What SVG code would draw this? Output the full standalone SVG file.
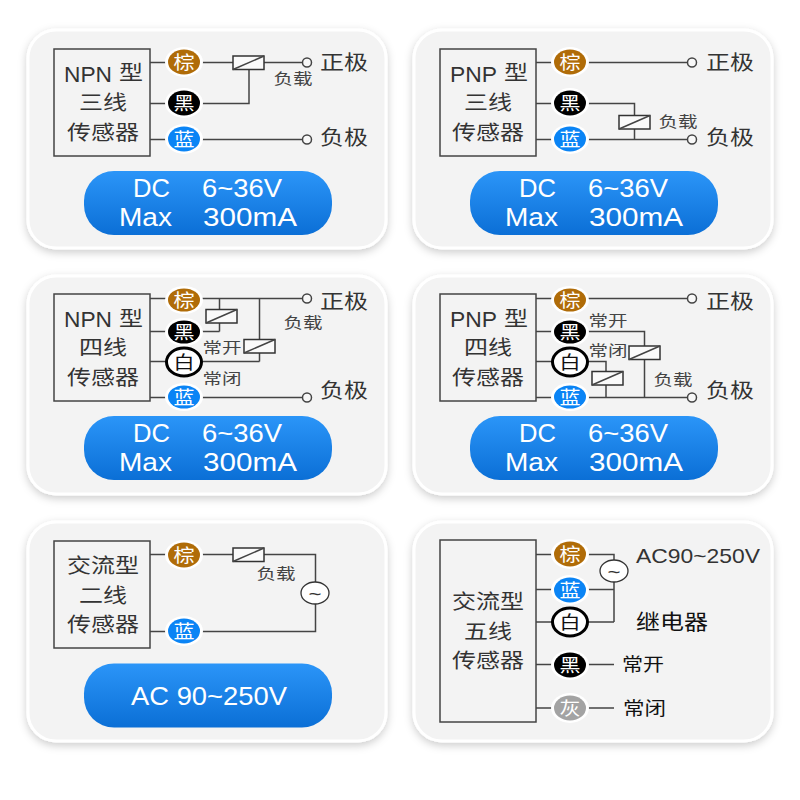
<svg xmlns="http://www.w3.org/2000/svg" width="800" height="800" viewBox="0 0 800 800">
<style>
text{font-family:"Noto Sans CJK SC","Noto Sans",sans-serif;text-anchor:middle}
.card{fill:#f3f3f3;stroke:#fff;stroke-width:3;filter:url(#sh)}
.box{fill:none;stroke:#444;stroke-width:1.5}
.w{fill:none;stroke:#444;stroke-width:1.5}
.term{fill:#f8f8f8;stroke:#444;stroke-width:1.5}
.rel{fill:#fafafa;stroke:#333;stroke-width:1.5}
.src{fill:#fff;stroke:#333;stroke-width:1.3}
.pill{fill:url(#pg)}
.halo{fill:#fff}
.bt{font-size:18px;fill:#fff}
.bd{font-size:18px;fill:#111}
.t{font-size:20px;fill:#333}
.m{font-size:20px;fill:#333}
.s{font-size:15px;fill:#444}
.n{font-size:22px;fill:#333;font-family:"Liberation Sans",sans-serif}
.p{font-size:25px;fill:#fff;font-family:"Liberation Sans",sans-serif}
.z{font-size:19px;fill:#333;font-family:"Liberation Sans",sans-serif}
.brown{fill:#b06c08}.black{fill:#000}.blue{fill:#0a84f5}.gray{fill:#a3a3a3}
.white{fill:#fff;stroke:#000;stroke-width:3}
</style>
<defs>
<linearGradient id="pg" x1="0" y1="0" x2="0" y2="1"><stop offset="0" stop-color="#2b95f8"/><stop offset="1" stop-color="#0b6fd6"/></linearGradient>
<filter id="sh" x="-10%" y="-10%" width="120%" height="125%"><feDropShadow dx="0" dy="3" stdDeviation="4" flood-color="#000" flood-opacity=".2"/></filter>
<g id="relay"><rect class="rel" width="31" height="13.500"/><path class="w" d="M0 13.500L31 0"/></g>
</defs>
<rect width="800" height="800" fill="#fff"/>
<g id="cards">
<rect class="card" x="28" y="30" width="358" height="218" rx="28"/>
<rect class="card" x="414" y="30" width="358" height="218" rx="28"/>
<rect class="card" x="28" y="276" width="358" height="218" rx="28"/>
<rect class="card" x="414" y="276" width="358" height="218" rx="28"/>
<rect class="card" x="28" y="522" width="358" height="219" rx="28"/>
<rect class="card" x="414" y="522" width="358" height="219" rx="28"/>
</g>
<g id="connectors">
<path class="w" d="M150 62.500H302M150 103.500H249V69M150 139.500H302"/>
<path class="w" d="M536 62.500H688M536 103.500H634.500V139.500M536 139.500H688"/>
<path class="w" d="M150 298.500H302M219.500 298.500V331.500M150 331.500H219.500M259.500 298.500V361.500M150 361.500H259.500M150 397.500H302"/>
<path class="w" d="M536 298.500H688M536 331.500H644.500V397.500M536 361.500H606V397.500M536 397.500H688"/>
<path class="w" d="M150 554.500H315.500V631.500H150"/>
<path class="w" d="M536 554.500H614V622M536 589.500H614M536 622H614M536 664.500H614M536 708H614"/>
</g>
<g id="panel1">
<g id="p1-sensor"><rect class="box" x="54" y="49" width="96" height="107"/><text class="n" x="88" y="81.500" textLength="48" lengthAdjust="spacingAndGlyphs">NPN</text><text class="t" x="131" y="80" textLength="24" lengthAdjust="spacingAndGlyphs">型</text><text class="t" x="103" y="110" textLength="48" lengthAdjust="spacingAndGlyphs">三线</text><text class="t" x="103" y="139.500" textLength="72" lengthAdjust="spacingAndGlyphs">传感器</text></g>
<g id="p1-brown"><ellipse class="halo" cx="184" cy="62" rx="19" ry="15"/><ellipse class="brown" cx="184" cy="62" rx="16" ry="12.500"/><text class="bt" x="184" y="68.500" textLength="21" lengthAdjust="spacingAndGlyphs">棕</text></g>
<g id="p1-black"><ellipse class="halo" cx="184" cy="103" rx="19" ry="15"/><ellipse class="black" cx="184" cy="103" rx="16" ry="12.500"/><text class="bt" x="184" y="109.500" textLength="21" lengthAdjust="spacingAndGlyphs">黑</text></g>
<g id="p1-blue"><ellipse class="halo" cx="184" cy="139" rx="19" ry="15"/><ellipse class="blue" cx="184" cy="139" rx="16" ry="12.500"/><text class="bt" x="184" y="145.500" textLength="21" lengthAdjust="spacingAndGlyphs">蓝</text></g>
<g id="p1-load"><use href="#relay" x="233" y="56"/><text class="s" x="293" y="84" textLength="39" lengthAdjust="spacingAndGlyphs">负载</text></g>
<g id="p1-pos"><circle class="term" cx="307" cy="62.500" r="4.500"/><text class="m" x="344" y="70" textLength="48" lengthAdjust="spacingAndGlyphs">正极</text></g>
<g id="p1-neg"><circle class="term" cx="307" cy="139.500" r="4.500"/><text class="m" x="344" y="145" textLength="48" lengthAdjust="spacingAndGlyphs">负极</text></g>
<g id="p1-spec"><rect class="pill" x="84" y="171" width="248" height="64" rx="30"/><text class="p" x="151.500" y="197" textLength="37" lengthAdjust="spacingAndGlyphs">DC</text><text class="p" x="242" y="197" textLength="80" lengthAdjust="spacingAndGlyphs">6~36V</text><text class="p" x="145.500" y="226" textLength="53" lengthAdjust="spacingAndGlyphs">Max</text><text class="p" x="250" y="226" textLength="94" lengthAdjust="spacingAndGlyphs">300mA</text></g>
</g>
<g id="panel2">
<g id="p2-sensor"><rect class="box" x="440" y="49" width="96" height="107"/><text class="n" x="473.500" y="81.500" textLength="47" lengthAdjust="spacingAndGlyphs">PNP</text><text class="t" x="516" y="80" textLength="24" lengthAdjust="spacingAndGlyphs">型</text><text class="t" x="488" y="110" textLength="48" lengthAdjust="spacingAndGlyphs">三线</text><text class="t" x="488" y="139.500" textLength="72" lengthAdjust="spacingAndGlyphs">传感器</text></g>
<g id="p2-brown"><ellipse class="halo" cx="570" cy="62" rx="19" ry="15"/><ellipse class="brown" cx="570" cy="62" rx="16" ry="12.500"/><text class="bt" x="570" y="68.500" textLength="21" lengthAdjust="spacingAndGlyphs">棕</text></g>
<g id="p2-black"><ellipse class="halo" cx="570" cy="103" rx="19" ry="15"/><ellipse class="black" cx="570" cy="103" rx="16" ry="12.500"/><text class="bt" x="570" y="109.500" textLength="21" lengthAdjust="spacingAndGlyphs">黑</text></g>
<g id="p2-blue"><ellipse class="halo" cx="570" cy="139" rx="19" ry="15"/><ellipse class="blue" cx="570" cy="139" rx="16" ry="12.500"/><text class="bt" x="570" y="145.500" textLength="21" lengthAdjust="spacingAndGlyphs">蓝</text></g>
<g id="p2-load"><use href="#relay" x="619" y="115.500"/><text class="s" x="678" y="127" textLength="39" lengthAdjust="spacingAndGlyphs">负载</text></g>
<g id="p2-pos"><circle class="term" cx="692" cy="62.500" r="4.500"/><text class="m" x="730" y="70" textLength="48" lengthAdjust="spacingAndGlyphs">正极</text></g>
<g id="p2-neg"><circle class="term" cx="692" cy="139.500" r="4.500"/><text class="m" x="730" y="145" textLength="48" lengthAdjust="spacingAndGlyphs">负极</text></g>
<g id="p2-spec"><rect class="pill" x="470" y="171" width="248" height="64" rx="30"/><text class="p" x="537.500" y="197" textLength="37" lengthAdjust="spacingAndGlyphs">DC</text><text class="p" x="628" y="197" textLength="80" lengthAdjust="spacingAndGlyphs">6~36V</text><text class="p" x="531.500" y="226" textLength="53" lengthAdjust="spacingAndGlyphs">Max</text><text class="p" x="636" y="226" textLength="94" lengthAdjust="spacingAndGlyphs">300mA</text></g>
</g>
<g id="panel3">
<g id="p3-sensor"><rect class="box" x="54" y="294" width="96" height="107"/><text class="n" x="88" y="327" textLength="48" lengthAdjust="spacingAndGlyphs">NPN</text><text class="t" x="131" y="325.500" textLength="24" lengthAdjust="spacingAndGlyphs">型</text><text class="t" x="103" y="355" textLength="48" lengthAdjust="spacingAndGlyphs">四线</text><text class="t" x="103" y="385" textLength="72" lengthAdjust="spacingAndGlyphs">传感器</text></g>
<g id="p3-brown"><ellipse class="halo" cx="184" cy="300" rx="19" ry="14"/><ellipse class="brown" cx="184" cy="300" rx="16" ry="11.500"/><text class="bt" x="184" y="306.500" textLength="21" lengthAdjust="spacingAndGlyphs">棕</text></g>
<g id="p3-black"><ellipse class="halo" cx="184" cy="332" rx="19" ry="14"/><ellipse class="black" cx="184" cy="332" rx="16" ry="11.500"/><text class="bt" x="184" y="338.500" textLength="21" lengthAdjust="spacingAndGlyphs">黑</text></g>
<g id="p3-white"><ellipse class="white" cx="184" cy="362" rx="17.500" ry="14"/><text class="bd" x="184" y="368.500" textLength="21" lengthAdjust="spacingAndGlyphs">白</text></g>
<g id="p3-blue"><ellipse class="halo" cx="184" cy="397" rx="19" ry="14"/><ellipse class="blue" cx="184" cy="397" rx="16" ry="11.500"/><text class="bt" x="184" y="403.500" textLength="21" lengthAdjust="spacingAndGlyphs">蓝</text></g>
<g id="p3-relay1"><use href="#relay" x="206" y="309.500"/></g>
<g id="p3-relay2"><use href="#relay" x="244" y="339.500"/></g>
<text class="s" x="303" y="328" textLength="39" lengthAdjust="spacingAndGlyphs">负载</text>
<text class="s" x="222" y="353" textLength="39" lengthAdjust="spacingAndGlyphs">常开</text>
<text class="s" x="222" y="384" textLength="39" lengthAdjust="spacingAndGlyphs">常闭</text>
<g id="p3-pos"><circle class="term" cx="307" cy="298.500" r="4.500"/><text class="m" x="344" y="309" textLength="48" lengthAdjust="spacingAndGlyphs">正极</text></g>
<g id="p3-neg"><circle class="term" cx="307" cy="397.500" r="4.500"/><text class="m" x="344" y="398" textLength="48" lengthAdjust="spacingAndGlyphs">负极</text></g>
<g id="p3-spec"><rect class="pill" x="84" y="416" width="248" height="64" rx="30"/><text class="p" x="151.500" y="442" textLength="37" lengthAdjust="spacingAndGlyphs">DC</text><text class="p" x="242" y="442" textLength="80" lengthAdjust="spacingAndGlyphs">6~36V</text><text class="p" x="145.500" y="471" textLength="53" lengthAdjust="spacingAndGlyphs">Max</text><text class="p" x="250" y="471" textLength="94" lengthAdjust="spacingAndGlyphs">300mA</text></g>
</g>
<g id="panel4">
<g id="p4-sensor"><rect class="box" x="440" y="294" width="96" height="107"/><text class="n" x="473.500" y="327" textLength="47" lengthAdjust="spacingAndGlyphs">PNP</text><text class="t" x="516" y="325.500" textLength="24" lengthAdjust="spacingAndGlyphs">型</text><text class="t" x="488" y="355" textLength="48" lengthAdjust="spacingAndGlyphs">四线</text><text class="t" x="488" y="385" textLength="72" lengthAdjust="spacingAndGlyphs">传感器</text></g>
<g id="p4-brown"><ellipse class="halo" cx="570" cy="300" rx="19" ry="14"/><ellipse class="brown" cx="570" cy="300" rx="16" ry="11.500"/><text class="bt" x="570" y="306.500" textLength="21" lengthAdjust="spacingAndGlyphs">棕</text></g>
<g id="p4-black"><ellipse class="halo" cx="570" cy="332" rx="19" ry="14"/><ellipse class="black" cx="570" cy="332" rx="16" ry="11.500"/><text class="bt" x="570" y="338.500" textLength="21" lengthAdjust="spacingAndGlyphs">黑</text></g>
<g id="p4-white"><ellipse class="white" cx="570" cy="362" rx="17.500" ry="14"/><text class="bd" x="570" y="368.500" textLength="21" lengthAdjust="spacingAndGlyphs">白</text></g>
<g id="p4-blue"><ellipse class="halo" cx="570" cy="397" rx="19" ry="14"/><ellipse class="blue" cx="570" cy="397" rx="16" ry="11.500"/><text class="bt" x="570" y="403.500" textLength="21" lengthAdjust="spacingAndGlyphs">蓝</text></g>
<g id="p4-relay1"><use href="#relay" x="629" y="346"/></g>
<g id="p4-relay2"><use href="#relay" x="592" y="371.500"/></g>
<text class="s" x="608" y="326" textLength="39" lengthAdjust="spacingAndGlyphs">常开</text>
<text class="s" x="608" y="356" textLength="39" lengthAdjust="spacingAndGlyphs">常闭</text>
<text class="s" x="673" y="385" textLength="39" lengthAdjust="spacingAndGlyphs">负载</text>
<g id="p4-pos"><circle class="term" cx="692" cy="298.500" r="4.500"/><text class="m" x="730" y="309" textLength="48" lengthAdjust="spacingAndGlyphs">正极</text></g>
<g id="p4-neg"><circle class="term" cx="692" cy="397.500" r="4.500"/><text class="m" x="730" y="398" textLength="48" lengthAdjust="spacingAndGlyphs">负极</text></g>
<g id="p4-spec"><rect class="pill" x="470" y="416" width="248" height="64" rx="30"/><text class="p" x="537.500" y="442" textLength="37" lengthAdjust="spacingAndGlyphs">DC</text><text class="p" x="628" y="442" textLength="80" lengthAdjust="spacingAndGlyphs">6~36V</text><text class="p" x="531.500" y="471" textLength="53" lengthAdjust="spacingAndGlyphs">Max</text><text class="p" x="636" y="471" textLength="94" lengthAdjust="spacingAndGlyphs">300mA</text></g>
</g>
<g id="panel5">
<g id="p5-sensor"><rect class="box" x="54" y="541" width="96" height="107"/><text class="t" x="103" y="573" textLength="72" lengthAdjust="spacingAndGlyphs">交流型</text><text class="t" x="103" y="603" textLength="48" lengthAdjust="spacingAndGlyphs">二线</text><text class="t" x="103" y="632" textLength="72" lengthAdjust="spacingAndGlyphs">传感器</text></g>
<g id="p5-brown"><ellipse class="halo" cx="184" cy="555" rx="19" ry="15"/><ellipse class="brown" cx="184" cy="555" rx="16" ry="12.500"/><text class="bt" x="184" y="561.500" textLength="21" lengthAdjust="spacingAndGlyphs">棕</text></g>
<g id="p5-blue"><ellipse class="halo" cx="184" cy="631" rx="19" ry="15"/><ellipse class="blue" cx="184" cy="631" rx="16" ry="12.500"/><text class="bt" x="184" y="637.500" textLength="21" lengthAdjust="spacingAndGlyphs">蓝</text></g>
<g id="p5-load"><use href="#relay" x="233" y="548"/><text class="s" x="276" y="579" textLength="39" lengthAdjust="spacingAndGlyphs">负载</text></g>
<g id="p5-source"><ellipse class="src" cx="315" cy="593" rx="14" ry="11"/><text class="z" x="315" y="600" textLength="13" lengthAdjust="spacingAndGlyphs">~</text></g>
<g id="p5-spec"><rect class="pill" x="84" y="663.500" width="248" height="64" rx="30"/><text class="p" x="209" y="705" textLength="156" lengthAdjust="spacingAndGlyphs">AC 90~250V</text></g>
</g>
<g id="panel6">
<g id="p6-sensor"><rect class="box" x="440" y="540" width="96" height="182"/><text class="t" x="488" y="609" textLength="72" lengthAdjust="spacingAndGlyphs">交流型</text><text class="t" x="488" y="639" textLength="48" lengthAdjust="spacingAndGlyphs">五线</text><text class="t" x="488" y="668" textLength="72" lengthAdjust="spacingAndGlyphs">传感器</text></g>
<g id="p6-brown"><ellipse class="halo" cx="570" cy="554" rx="19" ry="15"/><ellipse class="brown" cx="570" cy="554" rx="16" ry="12.500"/><text class="bt" x="570" y="560.500" textLength="21" lengthAdjust="spacingAndGlyphs">棕</text></g>
<g id="p6-blue"><ellipse class="halo" cx="570" cy="590" rx="19" ry="15"/><ellipse class="blue" cx="570" cy="590" rx="16" ry="12.500"/><text class="bt" x="570" y="596.500" textLength="21" lengthAdjust="spacingAndGlyphs">蓝</text></g>
<g id="p6-white"><ellipse class="white" cx="570" cy="622" rx="17.500" ry="14"/><text class="bd" x="570" y="628.500" textLength="21" lengthAdjust="spacingAndGlyphs">白</text></g>
<g id="p6-black"><ellipse class="halo" cx="570" cy="665" rx="19" ry="15"/><ellipse class="black" cx="570" cy="665" rx="16" ry="12.500"/><text class="bt" x="570" y="671.500" textLength="21" lengthAdjust="spacingAndGlyphs">黑</text></g>
<g id="p6-gray"><ellipse class="halo" cx="570" cy="708" rx="19" ry="15"/><ellipse class="gray" cx="570" cy="708" rx="16" ry="12.500"/><text class="bt" x="570" y="714.500" textLength="21" lengthAdjust="spacingAndGlyphs">灰</text></g>
<g id="p6-source"><ellipse class="src" cx="614" cy="571" rx="14" ry="11"/><text class="z" x="614" y="578" textLength="13" lengthAdjust="spacingAndGlyphs">~</text></g>
<text x="698" y="563" font-size="21" fill="#333" style="font-family:'Liberation Sans',sans-serif" textLength="124" lengthAdjust="spacingAndGlyphs">AC90~250V</text>
<text x="672" y="629" font-size="21" fill="#111" textLength="72" lengthAdjust="spacingAndGlyphs">继电器</text>
<text x="643" y="671" font-size="18" fill="#111" textLength="42" lengthAdjust="spacingAndGlyphs">常开</text>
<text x="644.500" y="715" font-size="18" fill="#111" textLength="43" lengthAdjust="spacingAndGlyphs">常闭</text>
</g>
</svg>
